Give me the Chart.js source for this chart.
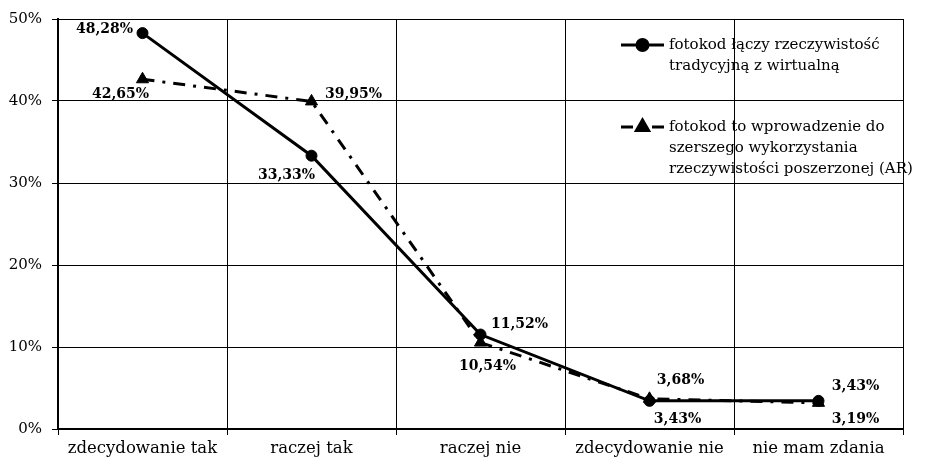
<!DOCTYPE html>
<html>
<head>
<meta charset="utf-8">
<script src="https://cdn.jsdelivr.net/npm/chart.js@4/dist/chart.umd.min.js"></script>
<style>
html,body{margin:0;padding:0;background:#fff;}
#wrap{width:927px;height:466px;}
</style>
</head>
<body>
<div id="wrap"><canvas id="c" width="927" height="466"></canvas></div>
<script>
// ---- data ----
const categories = ["zdecydowanie tak", "raczej tak", "raczej nie", "zdecydowanie nie", "nie mam zdania"];
const seriesNames = [
  ["fotokod łączy rzeczywistość", "tradycyjną z wirtualną"],
  ["fotokod to wprowadzenie do", "szerszego wykorzystania", "rzeczywistości poszerzonej (AR)"]
];
const seriesA = [48.28, 33.33, 11.52, 3.43, 3.43];
const seriesB = [42.65, 39.95, 10.54, 3.68, 3.19];
const yTicks = [0, 10, 20, 30, 40, 50];

// ---- style (label offsets in px relative to each point) ----
const labelOffsets = [
  [[-38, -4], [-25, 20], [39, -10], [28, 18], [37, -15]],
  [[-22, 15], [42, -7], [7, 24], [31, -18], [37, 17]]
];
const legendPos = { xLine0: 621, xLine1: 664, xText: 669, y: [45, 127], lineH: 21 };
const FONT = "'DejaVu Serif', serif";

const fmt = v => v.toFixed(2).replace('.', ',') + '%';

const labelPlugin = {
  id: 'valueLabels',
  afterDatasetsDraw(chart) {
    const ctx = chart.ctx;
    ctx.save();
    ctx.font = "bold 14px " + FONT;
    ctx.fillStyle = '#000';
    ctx.textAlign = 'center';
    ctx.textBaseline = 'middle';
    chart.data.datasets.forEach((ds, di) => {
      const meta = chart.getDatasetMeta(di);
      meta.data.forEach((pt, i) => {
        const off = labelOffsets[di][i];
        ctx.fillText(fmt(ds.data[i]), pt.x + off[0], pt.y + off[1]);
      });
    });
    ctx.restore();
  }
};

const legendPlugin = {
  id: 'customLegend',
  afterDraw(chart) {
    const ctx = chart.ctx;
    ctx.save();
    chart.data.datasets.forEach((ds, di) => {
      const y = legendPos.y[di];
      ctx.strokeStyle = '#000';
      ctx.lineWidth = ds.borderWidth;
      ctx.setLineDash(ds.borderDash || []);
      ctx.beginPath();
      ctx.moveTo(legendPos.xLine0, y);
      ctx.lineTo(legendPos.xLine1, y);
      ctx.stroke();
      ctx.setLineDash([]);
      const mx = (legendPos.xLine0 + legendPos.xLine1) / 2;
      ctx.fillStyle = '#000';
      Chart.helpers.drawPoint(ctx, {
        pointStyle: ds.pointStyle, radius: ds.pointRadius, rotation: 0, borderWidth: 1
      }, mx, y);
      ctx.font = "15px " + FONT;
      ctx.textAlign = 'left';
      ctx.textBaseline = 'middle';
      seriesNames[di].forEach((line, li) => {
        ctx.fillText(line, legendPos.xText, y + li * legendPos.lineH);
      });
    });
    ctx.restore();
  }
};

new Chart(document.getElementById('c'), {
  type: 'line',
  data: {
    labels: categories,
    datasets: [
      {
        label: seriesNames[0].join(' '),
        data: seriesA,
        borderColor: '#000',
        backgroundColor: '#000',
        borderWidth: 3,
        pointStyle: 'circle',
        pointRadius: 5.5,
        pointBorderWidth: 1,
        pointBackgroundColor: '#000',
        pointBorderColor: '#000',
        tension: 0
      },
      {
        label: seriesNames[1].join(' '),
        data: seriesB,
        borderColor: '#000',
        backgroundColor: '#000',
        borderWidth: 3,
        borderDash: [12, 8, 3, 8],
        pointStyle: 'triangle',
        pointRadius: 7,
        pointBorderWidth: 1,
        pointBackgroundColor: '#000',
        pointBorderColor: '#000',
        tension: 0
      }
    ]
  },
  options: {
    responsive: false,
    devicePixelRatio: 1,
    animation: false,
    layout: { padding: { top: 15, right: 24, left: 0, bottom: 0 } },
    plugins: { legend: { display: false }, tooltip: { enabled: false } },
    scales: {
      x: {
        offset: true,
        grid: { offset: true, color: '#000', lineWidth: 1, tickLength: 6, tickColor: '#000' },
        border: { color: '#000', width: 2 },
        ticks: { color: '#000', font: { family: FONT, size: 16.5 }, padding: 4, maxRotation: 0, autoSkip: false },
        afterFit: s => { s.height = 37; }
      },
      y: {
        min: yTicks[0],
        max: yTicks[yTicks.length - 1],
        afterBuildTicks: s => { s.ticks = yTicks.map(v => ({ value: v })); },
        grid: { color: '#000', lineWidth: 1, tickLength: 6, tickColor: '#000' },
        border: { color: '#000', width: 2 },
        ticks: { color: '#000', font: { family: FONT, size: 15 }, padding: 10, callback: v => v + '%' },
        afterFit: s => { s.width = 58; }
      }
    }
  },
  plugins: [labelPlugin, legendPlugin]
});
</script>
</body>
</html>
